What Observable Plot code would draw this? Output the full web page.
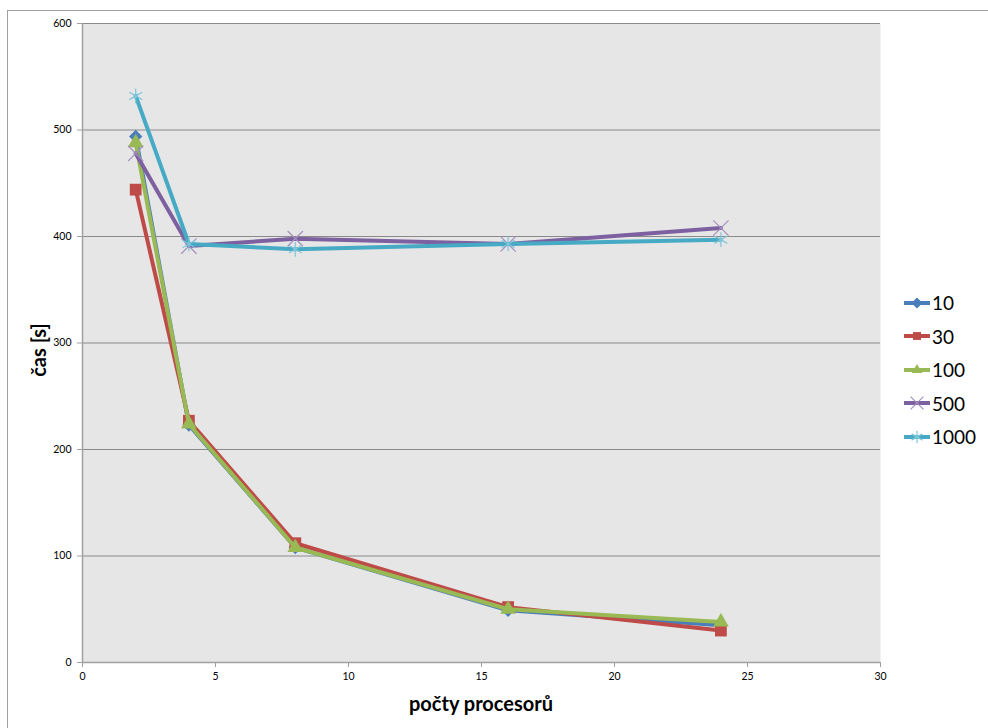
<!DOCTYPE html>
<html><head><meta charset="utf-8">
<script src="https://cdn.jsdelivr.net/npm/d3@7"></script>
<script src="https://cdn.jsdelivr.net/npm/@observablehq/plot@0.6"></script>
<style>
body{margin:0;background:#fff;font-family:Lato,"Open Sans",sans-serif;}
#wrap{position:relative;width:988px;height:728px;overflow:hidden;}
#frame{position:absolute;left:7px;top:10px;width:1200px;height:1000px;border:1px solid #a0a0a0;box-sizing:border-box;pointer-events:none;}
.title{position:absolute;font-weight:bold;font-size:20px;color:#000;white-space:nowrap;}
#legend{position:absolute;left:903px;top:286px;}
.li{display:flex;align-items:center;height:33.5px;font-size:19px;}
.li span{margin-left:1px;}
</style></head>
<body><div id="wrap"><div id="frame"></div><div id="chart"></div>
<div class="title" style="left:481px;top:703px;transform:translate(-50%,-50%)">počty procesorů</div>
<div class="title" style="left:38px;top:350px;transform:translate(-50%,-50%) rotate(-90deg)">čas [s]</div>
<div id="legend"></div></div>
<script>
const procs = [2, 4, 8, 16, 24];
const s10 = [494, 223, 108, 49, 35];
const s30 = [444, 227, 112, 52, 30];
const s100 = [488, 224, 108, 50, 38];
const s500 = [478, 391, 398, 393, 408];
const s1000 = [532, 393, 388, 393, 397];
const seriesNames = ["10", "30", "100", "500", "1000"];
const seriesValues = [s10, s30, s100, s500, s1000];
const colors = ["#4a7ebb", "#be4b48", "#98b954", "#7d60a0", "#46aac5"];
const markerColors = ["#4a7ebb", "#be4b48", "#98b954", "#a48fc0", "#7fc6da"];
const symbols = ["diamond2", "square2", "triangle2", "times", "asterisk"];
const filled = [true, true, true, false, false];
const xTicks = [0, 5, 10, 15, 20, 25, 30];
const yTicks = [0, 100, 200, 300, 400, 500, 600];

const data = [];
seriesNames.forEach((s, i) => procs.forEach((p, j) => data.push({series: s, idx: i, x: p, y: seriesValues[i][j]})));

const marks = [
  Plot.frame({fill: "#e6e6e6", stroke: null}),
  Plot.gridY(yTicks, {stroke: "#8a8a8a", strokeOpacity: 1, strokeWidth: 1}),
  Plot.axisY(yTicks, {tickSize: 5, tickPadding: 6, stroke: "#a0a0a0", fontSize: 10.5, label: null, color: "#000"}),
  Plot.axisX(xTicks, {tickSize: 5, tickPadding: 5, stroke: "#a0a0a0", fontSize: 10.5, label: null}),
  Plot.ruleX([0], {stroke: "#a0a0a0", strokeWidth: 1.5}),
  Plot.ruleY([0], {stroke: "#a0a0a0", strokeWidth: 1.5}),
];
const sizes = [6, 7.5, 7.5, 7, 7];
seriesNames.forEach((s, i) => {
  const d = data.filter(e => e.idx === i);
  marks.push(Plot.line(d, {x: "x", y: "y", stroke: colors[i], strokeWidth: 4}));
  if (filled[i]) {
    marks.push(Plot.dot(d, {x: "x", y: "y", symbol: () => symbols[i], fill: markerColors[i], stroke: null, r: sizes[i]}));
  } else {
    marks.push(Plot.dot(d, {x: "x", y: "y", symbol: () => symbols[i], stroke: markerColors[i], strokeWidth: 1.2, r: sizes[i]}));
  }
});

const chart = Plot.plot({
  width: 988, height: 728,
  marginLeft: 82, marginRight: 108, marginTop: 23, marginBottom: 66,
  x: {domain: [0, 30]},
  y: {domain: [0, 600]},
  symbol: {type: "identity"},
  style: {fontFamily: "Lato, 'Open Sans', sans-serif", color: "#000", background: "transparent"},
  marks
});
document.getElementById("chart").appendChild(chart);

// legend
const leg = d3.select("#legend");
seriesNames.forEach((s, i) => {
  const row = leg.append("div").attr("class", "li");
  const svg = row.append("svg").attr("width", 28).attr("height", 16);
  svg.append("line").attr("x1", 1).attr("x2", 27).attr("y1", 8).attr("y2", 8).attr("stroke", colors[i]).attr("stroke-width", 4);
  const sym = {diamond2: d3.symbolDiamond2, square2: d3.symbolSquare2, triangle2: d3.symbolTriangle2, times: d3.symbolTimes, asterisk: d3.symbolAsterisk}[symbols[i]];
  const p = svg.append("path").attr("transform", "translate(14,8)").attr("d", d3.symbol(sym, filled[i] ? 80 : 110)());
  if (filled[i]) p.attr("fill", markerColors[i]); else p.attr("fill", "none").attr("stroke", markerColors[i]).attr("stroke-width", 1.2);
  row.append("span").text(s);
});
</script></body></html>
